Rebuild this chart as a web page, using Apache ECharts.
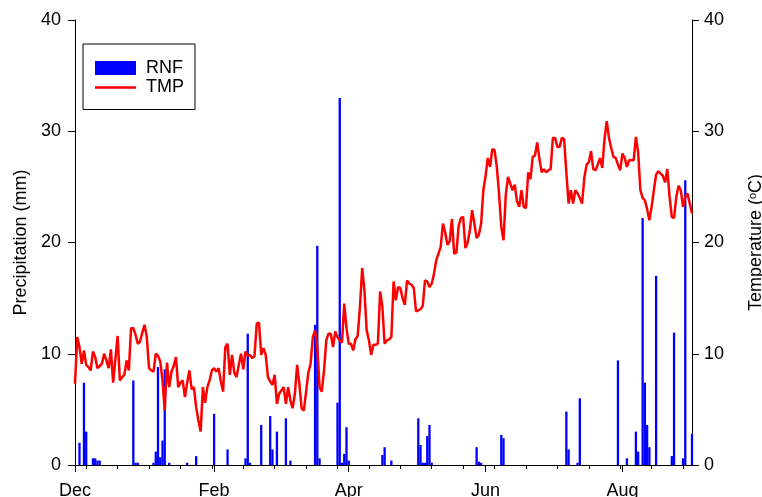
<!DOCTYPE html>
<html>
<head>
<meta charset="utf-8">
<script src="https://cdn.jsdelivr.net/npm/echarts@6/dist/echarts.min.js"></script>
<style>
  html, body { margin: 0; padding: 0; background: #ffffff; }
  #chart { width: 762px; height: 497px; }
</style>
</head>
<body>
<div id="chart"></div>
<script>
// Day index 0 = 1 December; daily record through 1 September.
const monthTickDays = [0, 62, 122, 183, 244];
const monthTickLabels = ['Dec', 'Feb', 'Apr', 'Jun', 'Aug'];
const minorTickDays = [5, 19, 33, 47, 61, 75, 89, 103, 117, 131, 145, 159, 173, 187, 201, 215, 229, 243, 257, 271];
const axisTicks = [0, 10, 20, 30, 40];

// Daily mean air temperature (°C), one value per day from day 0.
const tempC = [
  7.3, 11.5, 10.6, 9.1, 10.3, 9.0, 8.8, 8.5, 10.2, 9.7,
  8.7, 8.9, 9.1, 10.0, 9.4, 8.7, 10.4, 7.4, 9.5, 11.6,
  7.6, 7.9, 8.1, 9.4, 8.5, 12.3, 12.3, 11.7, 10.9, 11.1,
  11.9, 12.6, 11.5, 8.7, 8.5, 8.4, 10.0, 9.8, 9.3, 7.6,
  4.9, 9.2, 7.0, 8.4, 8.9, 9.7, 7.0, 7.4, 7.6, 6.1,
  7.4, 8.5, 6.8, 7.0, 5.2, 4.0, 3.0, 7.0, 5.6, 7.0,
  7.6, 8.5, 8.7, 8.4, 8.7, 7.5, 6.6, 10.6, 10.9, 8.1,
  9.9, 8.3, 7.9, 9.0, 10.0, 8.6, 10.2, 9.8, 9.9, 9.6,
  9.8, 12.7, 12.8, 9.9, 10.5, 9.9, 7.9, 7.5, 7.2, 8.1,
  5.5, 6.4, 6.7, 7.0, 5.5, 7.0, 5.8, 5.1, 6.4, 9.0,
  7.3, 5.1, 4.9, 6.6, 8.3, 9.1, 11.5, 12.1, 10.6, 7.0,
  6.6, 8.5, 11.2, 11.8, 11.8, 10.6, 12.0, 11.5, 11.2, 11.0,
  14.5, 12.3, 10.9, 10.9, 10.3, 11.3, 11.6, 14.2, 17.7, 15.7,
  12.1, 11.2, 9.9, 10.8, 10.8, 10.9, 15.6, 14.2, 10.9, 11.2,
  11.3, 11.5, 16.5, 14.8, 16.0, 15.9, 15.0, 14.4, 16.6, 16.3,
  16.2, 15.9, 13.8, 13.9, 14.0, 14.3, 16.6, 16.5, 16.0, 16.3,
  17.2, 18.4, 19.0, 19.6, 21.7, 20.9, 19.8, 20.1, 22.1, 19.0,
  19.1, 21.5, 22.2, 22.3, 19.5, 20.0, 21.1, 22.9, 21.7, 20.4,
  20.7, 21.7, 24.7, 26.0, 27.6, 26.8, 28.4, 28.3, 26.8, 24.4,
  21.4, 20.2, 24.3, 25.9, 25.3, 24.7, 25.2, 23.7, 23.2, 24.7,
  23.2, 23.1, 26.3, 25.7, 27.7, 27.8, 29.0, 27.5, 26.3, 26.6,
  26.3, 26.5, 26.6, 29.4, 29.4, 28.6, 28.6, 29.4, 29.3, 26.3,
  23.5, 24.7, 23.5, 24.7, 24.4, 24.0, 23.5, 25.8, 27.0, 27.2,
  28.2, 26.6, 26.5, 27.0, 27.6, 26.7, 29.3, 30.9, 29.4, 28.5,
  27.7, 27.6, 27.0, 26.5, 28.0, 27.6, 26.8, 27.4, 27.4, 27.4,
  29.5, 28.1, 24.7, 24.0, 23.8, 23.0, 22.0, 23.2, 24.7, 26.1,
  26.4, 26.2, 26.0, 25.4, 26.6, 24.1, 22.3, 22.2, 24.1, 25.1,
  24.7, 23.2, 24.1, 24.4, 23.5, 22.6
];

// Days with rainfall and the daily total (mm).
const rainDays = [
  2, 4, 5, 8, 9, 10, 11, 26, 27, 28,
  35, 36, 37, 38, 39, 40, 42, 50, 54, 62,
  68, 76, 77, 78, 83, 87, 88, 90, 94, 96,
  107, 108, 109, 117, 118, 119, 120, 121, 122, 137,
  138, 141, 153, 154, 155, 156, 157, 158, 159, 179,
  180, 181, 190, 191, 219, 220, 224, 225, 242, 246,
  250, 251, 253, 254, 255, 256, 259, 266, 267, 271,
  272, 275
];
const rainMm = [
  2.0, 7.4, 3.0, 0.6, 0.6, 0.4, 0.4, 7.6, 0.2, 0.2,
  0.2, 1.2, 8.8, 0.7, 2.2, 8.6, 0.2, 0.2, 0.8, 4.6,
  1.4, 0.6, 11.8, 0.2, 3.6, 4.4, 1.4, 3.0, 4.2, 0.4,
  12.6, 19.7, 0.6, 5.6, 33.0, 0.2, 1.0, 3.4, 0.4, 0.9,
  1.6, 0.4, 4.2, 1.8, 0.2, 0.2, 2.6, 3.6, 0.2, 1.6,
  0.3, 0.2, 2.7, 2.4, 4.8, 1.4, 0.2, 6.0, 9.4, 0.6,
  3.0, 1.2, 22.2, 7.4, 3.6, 1.6, 17.0, 0.8, 11.9, 0.6,
  25.6, 2.8
];

const FONT = 'Liberation Sans, Arial, sans-serif';
const FS = 18;
const dayMax = 275;

const chart = echarts.init(document.getElementById('chart'), null, { renderer: 'canvas' });

const yAxisCommon = {
  type: 'value',
  min: axisTicks[0],
  max: axisTicks[axisTicks.length - 1],
  interval: 10,
  splitLine: { show: false },
  axisLine: { show: true, onZero: false, lineStyle: { color: '#000', width: 1 } },
  axisTick: { show: true, inside: false, length: 7, lineStyle: { color: '#000' } },
  axisLabel: { color: '#000', fontFamily: FONT, fontSize: FS, margin: 14 },
  nameLocation: 'middle',
  nameTextStyle: { color: '#000', fontFamily: FONT, fontSize: FS }
};

chart.setOption({
  animation: false,
  backgroundColor: '#ffffff',
  grid: { left: 75, right: 70, top: 20, bottom: 32, containLabel: false, outerBoundsMode: 'none' },
  legend: {
    orient: 'vertical',
    left: 83,
    top: 44,
    padding: [15, 11, 13, 12],
    itemWidth: 41,
    itemHeight: 14,
    itemGap: 1.5,
    borderColor: '#000',
    borderWidth: 1,
    backgroundColor: '#fff',
    symbolKeepAspect: true,
    textStyle: { color: '#000', fontFamily: FONT, fontSize: FS, padding: [0, 0, 0, 5] },
    data: [
      { name: 'RNF', icon: 'rect' },
      { name: 'TMP', icon: 'path://M0,0L41,0L41,2.5L0,2.5Z' }
    ]
  },
  xAxis: [
    {
      type: 'value',
      min: 0,
      max: dayMax,
      splitLine: { show: false },
      axisLine: { show: true, onZero: false, lineStyle: { color: '#000', width: 1 } },
      axisTick: { show: true, length: 7, customValues: monthTickDays, lineStyle: { color: '#000' } },
      axisLabel: {
        color: '#000', fontFamily: FONT, fontSize: FS, margin: 17,
        customValues: monthTickDays,
        formatter: (v) => monthTickLabels[monthTickDays.indexOf(Math.round(v))] || ''
      }
    },
    {
      type: 'value',
      position: 'bottom',
      min: 0,
      max: dayMax,
      splitLine: { show: false },
      axisLine: { show: false, onZero: false },
      axisTick: { show: true, length: 4, customValues: minorTickDays, lineStyle: { color: '#000' } },
      axisLabel: { show: false }
    }
  ],
  yAxis: [
    Object.assign({}, yAxisCommon, {
      position: 'left',
      name: 'Precipitation (mm)',
      nameGap: 45
    }),
    Object.assign({}, yAxisCommon, {
      position: 'right',
      name: 'Temperature ({sup|o}C)',
      nameGap: 55,
      axisLabel: { color: '#000', fontFamily: FONT, fontSize: FS, margin: 12 },
      nameTextStyle: {
        color: '#000', fontFamily: FONT, fontSize: FS,
        rich: { sup: { fontFamily: FONT, fontSize: 11, verticalAlign: 'top', padding: [0, 0, 7, 0] } }
      }
    })
  ],
  series: [
    {
      name: 'RNF',
      type: 'bar',
      xAxisIndex: 0,
      yAxisIndex: 0,
      barWidth: 2.3,
      itemStyle: { color: '#0000ff' },
      data: rainDays.map((d, i) => [d, rainMm[i]]),
      z: 2
    },
    {
      name: 'TMP',
      type: 'line',
      xAxisIndex: 0,
      yAxisIndex: 1,
      symbol: 'none',
      showSymbol: false,
      lineStyle: { color: '#ff0000', width: 2.5 },
      itemStyle: { color: '#ff0000' },
      data: tempC.map((v, i) => [i, v]),
      z: 3
    }
  ]
});
</script>
</body>
</html>
